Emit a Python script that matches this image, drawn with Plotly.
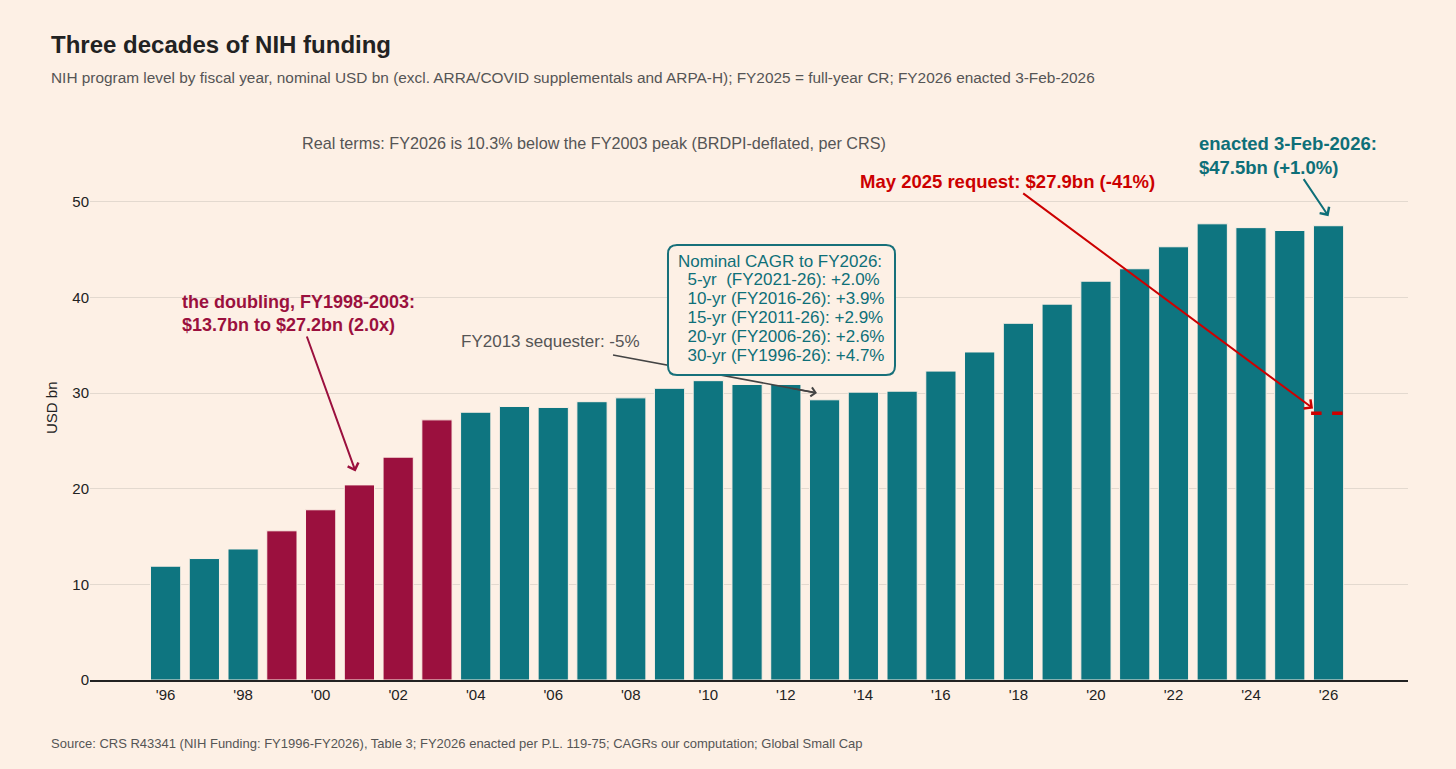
import plotly.graph_objects as go

# ---------------- data ----------------
years = list(range(1996, 2027))
funding = [11.9, 12.7, 13.7, 15.6, 17.8, 20.4, 23.3, 27.2, 28.0, 28.6,
           28.5, 29.1, 29.5, 30.5, 31.3, 30.9, 30.9, 29.3, 30.1, 30.2,
           32.3, 34.3, 37.3, 39.3, 41.7, 43.0, 45.3, 47.7, 47.3, 47.0, 47.5]
doubling_years = [1999, 2000, 2001, 2002, 2003]
request_2026 = 27.9
tick_years = list(range(1996, 2027, 2))
tick_labels = ["'%02d" % (y % 100) for y in tick_years]
y_ticks = [0, 10, 20, 30, 40, 50]
cagr_lines = [
    "Nominal CAGR to FY2026:",
    "\u00a0\u00a05-yr\u00a0\u00a0(FY2021-26): +2.0%",
    "\u00a0\u00a010-yr (FY2016-26): +3.9%",
    "\u00a0\u00a015-yr (FY2011-26): +2.9%",
    "\u00a0\u00a020-yr (FY2006-26): +2.6%",
    "\u00a0\u00a030-yr (FY1996-26): +4.7%",
]

# ---------------- style ----------------
BG = "#fdf0e5"
TEAL = "#0e7580"
TEAL_TXT = "#0e6f78"
CRIMSON = "#9b103e"
RED = "#cc0000"
GRAY = "#555555"
DARK = "#222222"
FONT = "Liberation Sans, Arial, sans-serif"

W, H = 1456, 769
PL, PR, PT, PB = 90, 1408, 154, 680
X_RANGE = [1994.05, 2028.05]
Y_RANGE = [0, 55]


def xp(px):
    return (px - PL) / (PR - PL)


def yp(py):
    return (PB - py) / (PB - PT)


colors = [CRIMSON if y in doubling_years else TEAL for y in years]

fig = go.Figure()
fig.add_trace(go.Bar(
    x=years, y=funding, width=0.78,
    marker=dict(color=colors, line=dict(color=BG, width=1)),
    hoverinfo="x+y", showlegend=False,
))
fig.add_trace(go.Scatter(
    x=[years[-1] - 0.45, years[-1] + 0.45], y=[request_2026, request_2026],
    mode="lines", line=dict(color=RED, width=3.5, dash="dash"),
    showlegend=False, hoverinfo="skip",
))

# rounded box for CAGR text
bx0, by0, bx1, by1, r = 668, 245, 895, 375, 9


def P(px, py):
    return "%.5f,%.5f" % (xp(px), yp(py))


box_path = ("M " + P(bx0 + r, by0) + " L " + P(bx1 - r, by0) +
            " Q " + P(bx1, by0) + " " + P(bx1, by0 + r) +
            " L " + P(bx1, by1 - r) +
            " Q " + P(bx1, by1) + " " + P(bx1 - r, by1) +
            " L " + P(bx0 + r, by1) +
            " Q " + P(bx0, by1) + " " + P(bx0, by1 - r) +
            " L " + P(bx0, by0 + r) +
            " Q " + P(bx0, by0) + " " + P(bx0 + r, by0) + " Z")

shapes = [
    # sequester arrow line (drawn under box)
    dict(type="line", xref="paper", yref="paper",
         x0=xp(613), y0=yp(355), x1=xp(815), y1=yp(392.6),
         line=dict(color="#444444", width=1.6), layer="above"),
    dict(type="path", xref="paper", yref="paper", path=box_path,
         fillcolor=BG, line=dict(color="#17707a", width=2), layer="above"),
]

LX = 49  # left text edge (compensating annotation padding)
ann = []
ann.append(dict(xref="paper", yref="paper", x=xp(LX), y=yp(45), xanchor="left", yanchor="middle",
                text="<b>Three decades of NIH funding</b>", showarrow=False,
                font=dict(size=24, color=DARK, family=FONT)))
ann.append(dict(xref="paper", yref="paper", x=xp(LX), y=yp(77), xanchor="left", yanchor="middle",
                text="NIH program level by fiscal year, nominal USD bn (excl. ARRA/COVID supplementals and ARPA-H); FY2025 = full-year CR; FY2026 enacted 3-Feb-2026",
                showarrow=False, font=dict(size=15.4, color=GRAY, family=FONT)))
ann.append(dict(xref="paper", yref="paper", x=xp(LX), y=yp(743), xanchor="left", yanchor="middle",
                text="Source: CRS R43341 (NIH Funding: FY1996-FY2026), Table 3; FY2026 enacted per P.L. 119-75; CAGRs our computation; Global Small Cap",
                showarrow=False, font=dict(size=13, color=GRAY, family=FONT)))
ann.append(dict(xref="paper", yref="paper", x=xp(594), y=yp(143), xanchor="center", yanchor="middle",
                text="Real terms: FY2026 is 10.3% below the FY2003 peak (BRDPI-deflated, per CRS)",
                showarrow=False, font=dict(size=16.2, color=GRAY, family=FONT)))
ann.append(dict(xref="paper", yref="paper", x=xp(51), y=yp(408), xanchor="center", yanchor="middle",
                text="USD bn", textangle=-90, showarrow=False,
                font=dict(size=15, color=DARK, family=FONT)))

# doubling annotation
ann.append(dict(x=2000.9, y=21.8, xref="x", yref="y", ax=-57, ay=-158,
                text="<b>the doubling, FY1998-2003:<br>$13.7bn to $27.2bn (2.0x)</b>",
                align="left", showarrow=True, arrowhead=4, arrowsize=1.1, arrowwidth=2,
                arrowcolor=CRIMSON, font=dict(size=18, color=CRIMSON, family=FONT)))
# sequester
ann.append(dict(xref="paper", yref="paper", x=xp(550), y=yp(341), xanchor="center", yanchor="middle",
                text="FY2013 sequester: -5%", showarrow=False,
                font=dict(size=17, color=GRAY, family=FONT)))
ann.append(dict(xref="paper", yref="paper", x=xp(817), y=yp(393), ax=-26, ay=-4.8,
                text="", showarrow=True, arrowhead=4, arrowsize=1.1, arrowwidth=1.6,
                arrowcolor="#444444"))
# CAGR lines
for i, line in enumerate(cagr_lines):
    ann.append(dict(xref="paper", yref="paper", x=xp(676), y=yp(261 + i * 18.8),
                    xanchor="left", yanchor="middle", text=line, showarrow=False,
                    font=dict(size=17, color=TEAL_TXT, family=FONT)))
# May 2025 request
ann.append(dict(x=2025.6, y=28.4, xref="x", yref="y", ax=-306, ay=-227,
                text="<b>May 2025 request: $27.9bn (-41%)</b>",
                showarrow=True, arrowhead=4, arrowsize=1.1, arrowwidth=2,
                arrowcolor=RED, font=dict(size=18.5, color=RED, family=FONT)))
# enacted
ann.append(dict(x=2026.0, y=48.5, xref="x", yref="y", ax=-41, ay=-61,
                text="<b>enacted 3-Feb-2026:<br>$47.5bn (+1.0%)</b>", align="left",
                showarrow=True, arrowhead=4, arrowsize=1.1, arrowwidth=2,
                arrowcolor=TEAL_TXT, font=dict(size=18.5, color=TEAL_TXT, family=FONT)))

fig.update_layout(
    width=W, height=H, autosize=False,
    margin=dict(l=PL, r=W - PR, t=PT, b=H - PB, pad=0),
    paper_bgcolor=BG, plot_bgcolor=BG,
    font=dict(family=FONT, size=15, color=DARK),
    bargap=0.2,
    xaxis=dict(range=X_RANGE, tickvals=tick_years, ticktext=tick_labels,
               showgrid=False, zeroline=False, showline=True, linecolor=DARK, linewidth=1.5,
               ticks="", tickfont=dict(size=15, color=DARK), fixedrange=True),
    yaxis=dict(range=Y_RANGE, tickvals=y_ticks, showgrid=True, gridcolor="#e3d9cf", gridwidth=1,
               zeroline=False, showline=False, ticks="",
               tickfont=dict(size=15, color=DARK), fixedrange=True),
    shapes=shapes, annotations=ann,
)

fig.write_html("out.html")
